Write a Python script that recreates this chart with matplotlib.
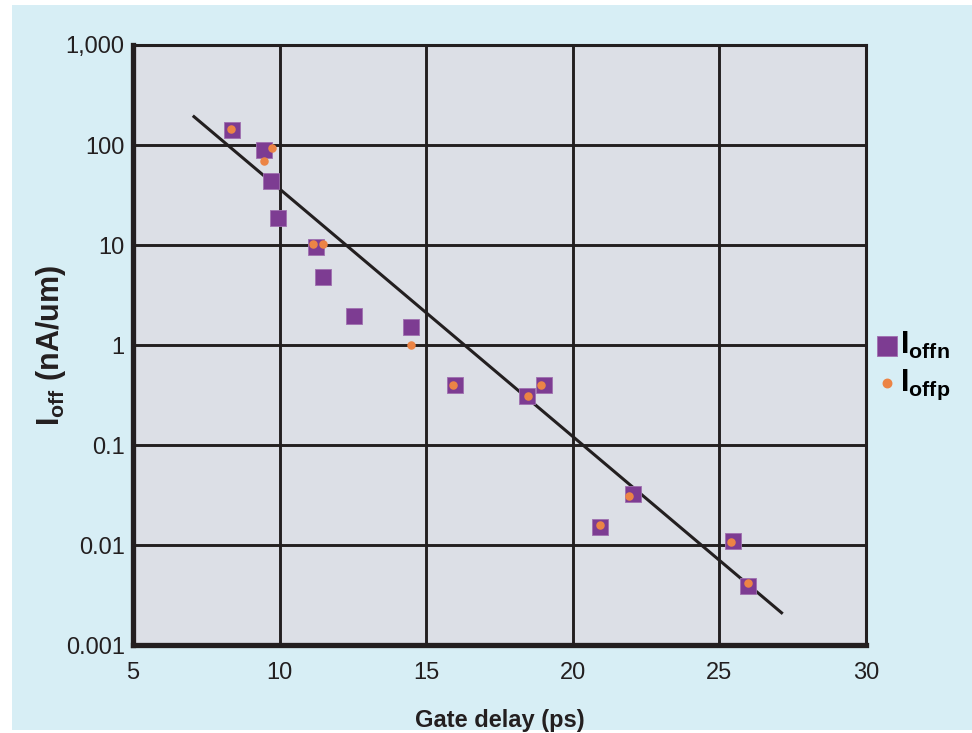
import matplotlib.pyplot as plt
import matplotlib.patches as mpatches
from matplotlib.ticker import FixedLocator, NullLocator

plt.rcParams['font.family'] = ['Liberation Sans', 'DejaVu Sans']
plt.rcParams['mathtext.fontset'] = 'custom'
plt.rcParams['mathtext.bf'] = 'Liberation Sans:bold'
plt.rcParams['mathtext.rm'] = 'Liberation Sans'

# Ioffn (squares)
n_delay = [8.38, 9.47, 9.71, 9.95, 11.25, 11.48, 12.54, 14.49, 15.99, 18.45, 19.03, 20.94, 22.06, 25.48, 25.99]
n_ioff = [142, 90, 44, 18.6, 9.5, 4.8, 1.97, 1.5, 0.40, 0.31, 0.40, 0.015, 0.032, 0.011, 0.0039]

# Ioffp (dots)
p_delay = [8.34, 9.74, 9.47, 11.14, 11.48, 14.49, 15.92, 18.48, 18.93, 21.93, 20.94, 25.38, 25.96]
p_ioff = [146, 94, 69, 10.2, 10.2, 0.99, 0.40, 0.31, 0.40, 0.031, 0.016, 0.0106, 0.0042]

# trend line end points
fit_delay = [7.08, 27.12]
fit_ioff = [192, 0.0021]

y_ticks = [0.001, 0.01, 0.1, 1, 10, 100, 1000]
y_labels = ['0.001', '0.01', '0.1', '1', '10', '100', '1,000']
x_ticks = [5, 10, 15, 20, 25, 30]

fig = plt.figure(figsize=(9.72, 7.33), dpi=100)
fig.patch.set_facecolor('white')
fig.patches.append(mpatches.Rectangle((12 / 972, 3 / 733), 960 / 972, 725 / 733,
                                      transform=fig.transFigure, facecolor='#d7eef5',
                                      edgecolor='none', zorder=-1))

ax = fig.add_axes([133 / 972, 1 - 645 / 733, 733 / 972, 600 / 733])
ax.set_facecolor('#dcdfe6')
ax.set_yscale('log')
ax.set_xlim(5, 30)
ax.set_ylim(0.001, 1000)

ax.yaxis.set_major_locator(FixedLocator(y_ticks))
ax.yaxis.set_minor_locator(NullLocator())
ax.set_yticklabels(y_labels)
ax.set_xticks(x_ticks)
ax.tick_params(length=0, labelsize=17, colors='#231f20', pad=6)
ax.tick_params(axis='x', pad=12)
ax.grid(True, color='#231f20', linewidth=2.1)
ax.set_axisbelow(True)

for s in ['left', 'bottom']:
    ax.spines[s].set_linewidth(3.8)
for s in ['top', 'right']:
    ax.spines[s].set_linewidth(2.2)
for s in ax.spines.values():
    s.set_color('#231f20')

ax.plot(fit_delay, fit_ioff, color='#231f20', linewidth=2.2, zorder=3)
sq = ax.scatter(n_delay, n_ioff, marker='s', s=140, color='#7d3c92', zorder=4,
                edgecolors='#a070b0', linewidths=0.6)
dt = ax.scatter(p_delay, p_ioff, marker='o', s=26, color='#ec8445', zorder=5)

ax.set_xlabel('Gate delay (ps)', fontsize=17, fontweight='bold', color='#231f20', labelpad=18)
ax.set_ylabel(r'$\mathbf{I_{off}}$ (nA/um)', fontsize=22, fontweight='bold',
              color='#231f20', labelpad=-2)

ax.legend([sq, dt], [r'$\mathbf{I_{offn}}$', r'$\mathbf{I_{offp}}$'],
          loc='center left', bbox_to_anchor=(0.975, 0.465), frameon=False,
          fontsize=22, handletextpad=-0.2, labelspacing=0.2, handlelength=1.2,
          borderaxespad=0.3, markerscale=1.2)

fig.savefig('out.png', dpi=100, facecolor=fig.get_facecolor())
